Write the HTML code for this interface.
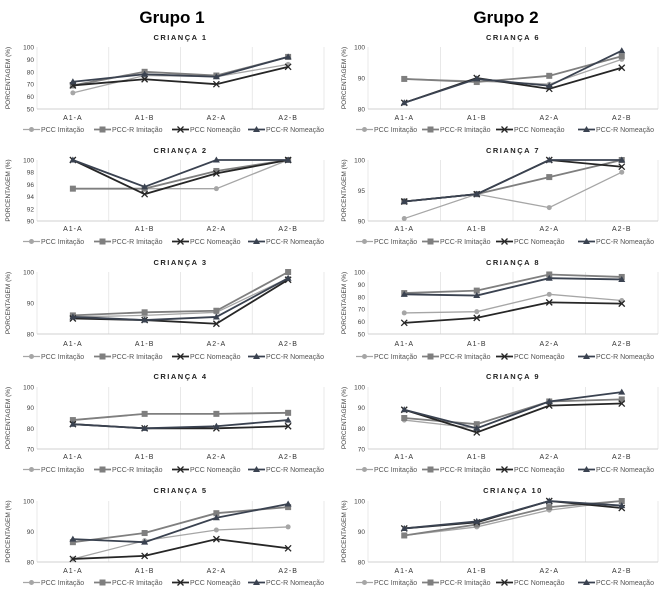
<!DOCTYPE html>
<html><head><meta charset="utf-8"><style>
body{margin:0;background:#fff;width:672px;height:597px;overflow:hidden}
svg text{font-family:"Liberation Sans",sans-serif}
</style></head><body>
<svg id="fig" width="672" height="597" xmlns="http://www.w3.org/2000/svg">
<text x="172" y="23" text-anchor="middle" font-size="17" font-weight="bold">Grupo 1</text>
<text x="506" y="23" text-anchor="middle" font-size="17" font-weight="bold">Grupo 2</text>
</svg>
<script>
const categories = ["A1-A","A1-B","A2-A","A2-B"];
const seriesNames = ["PCC Imitação","PCC-R Imitação","PCC Nomeação","PCC-R Nomeação"];
const chartTitles = ["CRIANÇA 1","CRIANÇA 2","CRIANÇA 3","CRIANÇA 4","CRIANÇA 5","CRIANÇA 6","CRIANÇA 7","CRIANÇA 8","CRIANÇA 9","CRIANÇA 10"];
const c1 = [[63,77,76,86],[69,80,77,92],[69,74,70,84],[72,78,76,92]];
const c2 = [[95.3,95.3,95.3,100],[95.3,95.3,98.2,100],[100,94.4,97.8,100],[100,95.6,100,100]];
const c3 = [[85.5,86,87,98],[86,87,87.5,100],[85,84.5,83.3,97.5],[85.5,84.5,85.5,98]];
const c4 = [[84,87,87,87.5],[84,87,87,87.5],[82,80,80,81],[82,80,81,84]];
const c5 = [[81,87,90.5,91.5],[86.5,89.5,96,98],[81,82,87.5,84.5],[87.5,86.5,94.5,99]];
const c6 = [[89.7,89,88,96],[89.7,88.7,90.7,97],[82,90,86.5,93.3],[82,89.7,87.5,98.8]];
const c7 = [[90.4,94.4,92.2,98],[93.2,94.4,97.2,100],[93.2,94.4,100,98.9],[93.2,94.4,100,100]];
const c8 = [[67,68,82,77],[83,85,98,96],[59,63,75.5,74.5],[82,81,95,94]];
const c9 = [[84,80,93,94],[85,82,93,94],[89,78,91,92],[89,80,93,97.5]];
const c10 = [[88.7,91.5,97,100],[88.7,92.3,98,100],[91,93,100,97.7],[91,93.3,100,98.5]];
const ticks1=[50,60,70,80,90,100], ticks2=[90,92,94,96,98,100], ticks3=[80,90,100], ticks4=[70,80,90,100], ticks5=[80,90,100];
const ticks6=[80,90,100], ticks7=[90,95,100], ticks8=[50,60,70,80,90,100], ticks9=[70,80,90,100], ticks10=[80,90,100];
const allData=[c1,c2,c3,c4,c5,c6,c7,c8,c9,c10];
const allTicks=[ticks1,ticks2,ticks3,ticks4,ticks5,ticks6,ticks7,ticks8,ticks9,ticks10];
const colors=["#a6a6a6","#7f7f7f","#262626","#3a4250"];
const svg=document.getElementById('fig');
const NS="http://www.w3.org/2000/svg";
function mk(tag,attrs,parent){const e=document.createElementNS(NS,tag);for(const k in attrs)e.setAttribute(k,attrs[k]);(parent||svg).appendChild(e);return e;}
// layout: [titleY, topY, bottomY, labelY, legendY]
const rows=[[40,47,109,120,132],[153,160,221,231,244],[265,272,334,346,359],[379,387,449,459,472],[493,501,562,573,585]];
function marker(g,type,x,y,c){
  if(type===0){const m=mk('circle',{cx:x,cy:y,r:2.5,fill:c},g);}
  else if(type===1){const m=mk('rect',{x:x-3,y:y-3,width:6,height:6,fill:c},g);}
  else if(type===2){const m=mk('path',{d:`M${x-3},${y-3}L${x+3},${y+3}M${x-3},${y+3}L${x+3},${y-3}`,stroke:c,'stroke-width':1.3,fill:'none'},g);}
  else {const m=mk('path',{d:`M${x},${y-3.5}L${x+3.5},${y+2.5}L${x-3.5},${y+2.5}Z`,fill:c},g);}
}
allData.forEach((data,i)=>{
  const col=i<5?0:1, r=rows[i%5];
  const x0=col?368:37, x1=col?658:324, ox=col?336:0;
  const ticks=allTicks[i];
  const lo=ticks[0], hi=ticks[ticks.length-1];
  const yS=v=>r[2]-(v-lo)/(hi-lo)*(r[2]-r[1]);
  const bw=(x1-x0)/4;
  const xS=k=>x0+bw*(k+0.5);
  const g=mk('g',{});
  
  
  const t=mk('text',{x:(x0+x1)/2,y:r[0],'text-anchor':'middle','font-size':7.5,'font-weight':'bold','letter-spacing':1.5,fill:'#222'},g);
  t.textContent=chartTitles[i];
  
  
  for(let k=0;k<=4;k++){const l=mk('line',{x1:x0+bw*k,x2:x0+bw*k,y1:r[1],y2:r[2],stroke:'#e3e3e3','stroke-width':0.8},g);}
  const ax=mk('line',{x1:x0,x2:x1,y1:r[2],y2:r[2],stroke:'#d0d0d0','stroke-width':1},g);
  
  
  ticks.forEach(v=>{const tt=mk('text',{x:x0-3,y:yS(v)+2.5,'text-anchor':'end','font-size':6.5,fill:'#444'},g);tt.textContent=v;});
  const yt=mk('text',{transform:`translate(${ox+10},${(r[1]+r[2])/2}) rotate(-90)`,'text-anchor':'middle','font-size':6.5,fill:'#444'},g);
  yt.textContent='PORCENTAGEM (%)';
  
  
  categories.forEach((c,k)=>{const ct=mk('text',{x:xS(k),y:r[3],'text-anchor':'middle','font-size':7,'letter-spacing':1,fill:'#333'},g);ct.textContent=c;});
  data.forEach((s,si)=>{
    const pts=s.map((v,k)=>xS(k)+','+yS(v)).join(' ');
    const pl=mk('polyline',{points:pts,fill:'none',stroke:colors[si],'stroke-width':si===0?1.3:1.8},g);
    
    
    s.forEach((v,k)=>marker(g,si,xS(k),yS(v),colors[si]));
  });
  const lx=col?[ox+20,ox+86,ox+160,ox+242]:[23,94,172,248];
  seriesNames.forEach((n,si)=>{
    const le=mk('g',{},g);
    
    
    mk('line',{x1:lx[si],x2:lx[si]+17,y1:r[4]-2.5,y2:r[4]-2.5,stroke:colors[si],'stroke-width':si===0?1.3:1.8},le);
    marker(le,si,lx[si]+8.5,r[4]-2.5,colors[si]);
    const lt=mk('text',{x:lx[si]+18,y:r[4],'font-size':7,fill:'#555'},le);
    lt.textContent=n;
  });
});
</script>
</body></html>
